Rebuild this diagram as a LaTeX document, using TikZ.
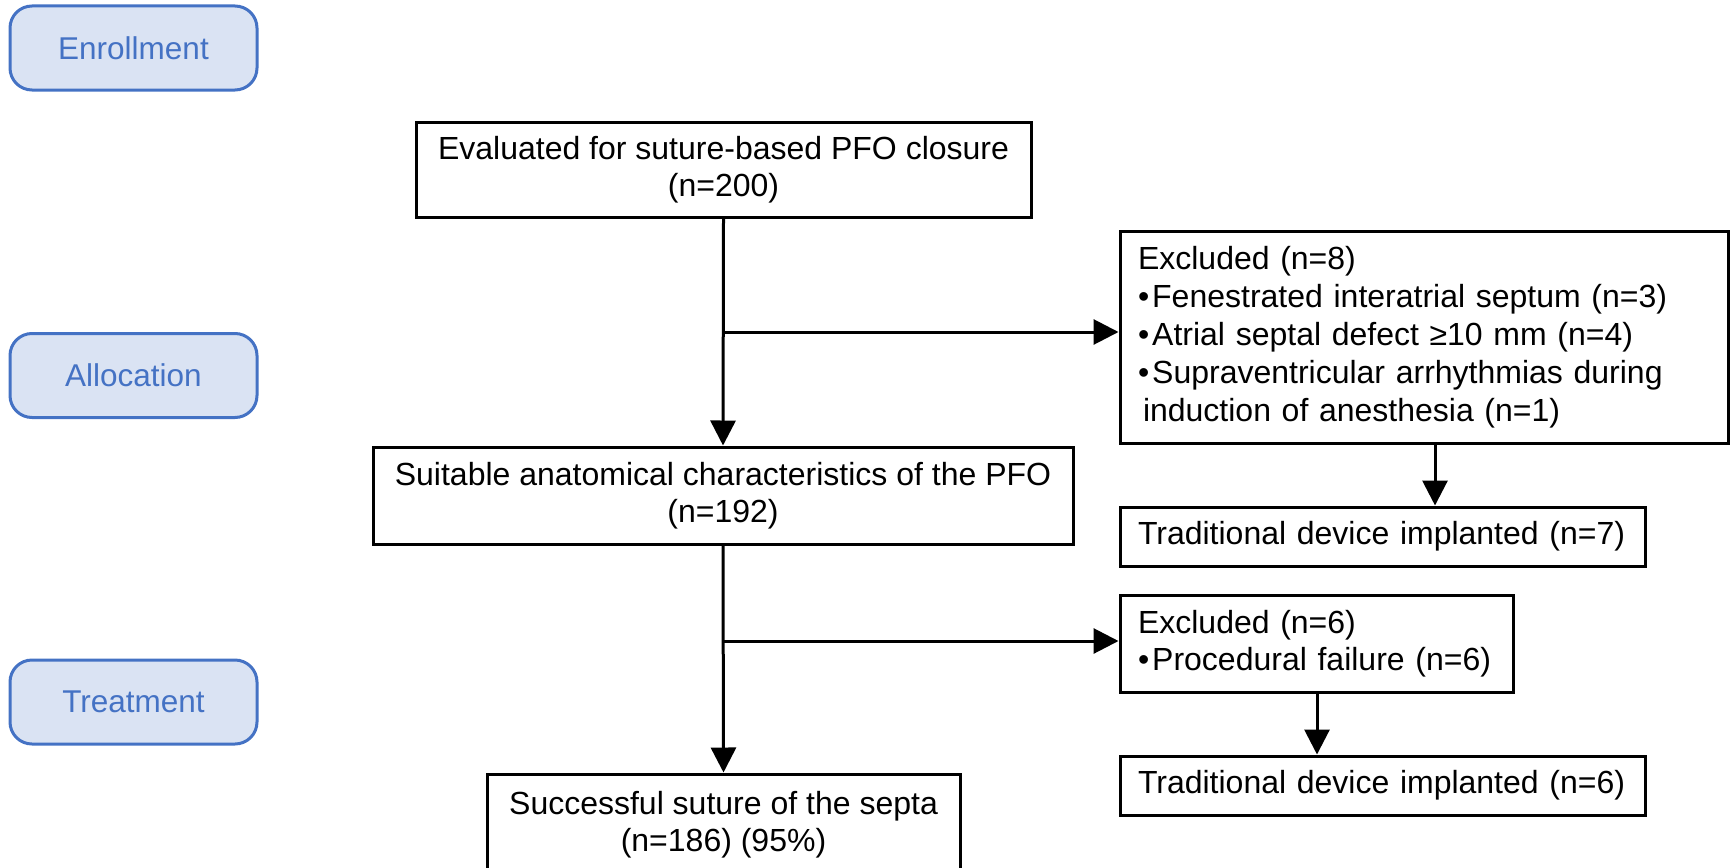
\documentclass[tikz,border=0pt]{standalone}
\usepackage{fontspec}
\setmainfont{Liberation Sans}
\usetikzlibrary{arrows.meta,calc}
\definecolor{lblue}{HTML}{4472C4}
\definecolor{lfill}{HTML}{DAE3F3}
\newcommand{\bul}{•\kern3pt}
\begin{document}
\begin{tikzpicture}[x=1pt,y=-1pt,
  mainbox/.style={draw=black, line width=3pt, fill=white, inner sep=0pt, align=center,
    font=\fontsize{32}{37}\selectfont},
  leftbox/.style={mainbox, align=left, inner xsep=18pt},
  lab/.style={draw=lblue, line width=3pt, fill=lfill, rounded corners=22pt,
    minimum width=247pt, minimum height=84pt, inner sep=0pt, text=lblue,
    font=\fontsize{31.5}{36}\selectfont},
  arr/.style={line width=3pt, -{Triangle[length=25pt,width=25pt]}}]
\useasboundingbox (0,0) rectangle (1731,867);
% stage labels
\node[lab] (enr) at (133.5,48) {Enrollment};
\node[lab] (alo) at (133.5,375.5) {Allocation};
\node[lab] (trt) at (133.5,702) {Treatment};
% main column
\node[mainbox, minimum width=615pt, minimum height=95pt] (b1) at (723.5,169.5)
  {Evaluated for suture-based PFO closure\\(n=200)};
\node[mainbox, minimum width=700pt, minimum height=97pt] (b2) at (723,495.5)
  {Suitable anatomical characteristics of the PFO\\(n=192)};
\node[mainbox, minimum width=473pt, minimum height=102pt] (b3) at (723.5,825)
  {Successful suture of the septa\\(n=186) (95\%)};
% right column
\node[leftbox, text width=572pt, minimum height=212pt,
  font=\fontsize{32}{38}\selectfont] (ex8) at (1424,337)
  {Excluded (n=8)\\\bul Fenestrated interatrial septum (n=3)\\\bul Atrial septal defect ≥10 mm (n=4)\\\bul Supraventricular arrhythmias during\\\hspace*{5pt}induction of anesthesia (n=1)};
\node[leftbox, text width=489pt, minimum height=59pt] (t7) at (1382.5,536.5)
  {Traditional device implanted (n=7)};
\node[leftbox, text width=357pt, minimum height=97pt] (ex6) at (1316.5,643.5)
  {Excluded (n=6)\\\bul Procedural failure (n=6)};
\node[leftbox, text width=489pt, minimum height=59pt] (t6) at (1382.5,785.5)
  {Traditional device implanted (n=6)};
% connectors
\coordinate (j1) at (b1.south |- 0,332);
\coordinate (j2) at (b2.south |- 0,641);
\coordinate (c7) at (1435,0);
\coordinate (c6) at (1317,0);
\draw[arr] (b1.south) -- (b2.north);
\draw[arr] (j1) -- (j1 -| ex8.west);
\draw[arr] (b2.south) -- (b3.north);
\draw[arr] (j2) -- (j2 -| ex6.west);
\draw[arr] (c7 |- ex8.south) -- (c7 |- t7.north);
\draw[arr] (c6 |- ex6.south) -- (c6 |- t6.north);
\end{tikzpicture}
\end{document}
